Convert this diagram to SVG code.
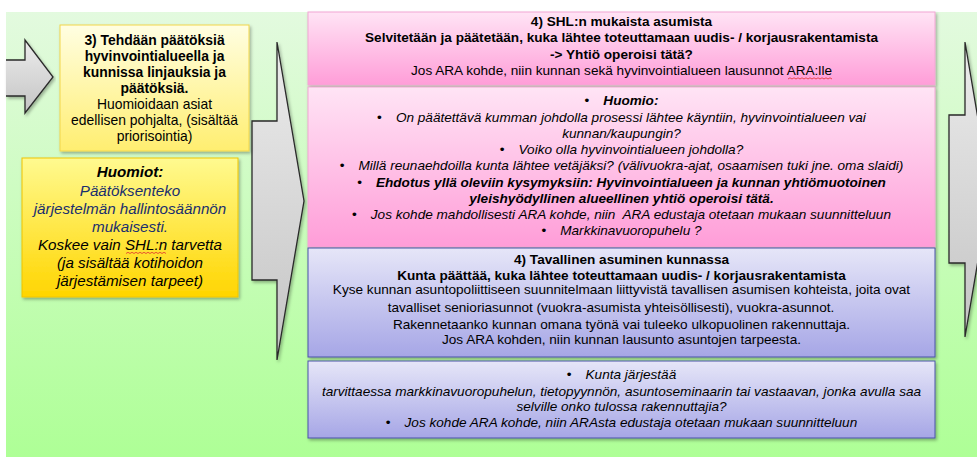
<svg xmlns="http://www.w3.org/2000/svg" width="977" height="457" viewBox="0 0 977 457">
<defs>
<linearGradient id="gBg" x1="0" y1="0" x2="0" y2="1"><stop offset="0" stop-color="#e3fadf"/><stop offset="1" stop-color="#aeff96"/></linearGradient>
<linearGradient id="gPink" x1="0" y1="0" x2="0" y2="1"><stop offset="0" stop-color="#ffe4f5"/><stop offset="1" stop-color="#ff9dd8"/></linearGradient>
<linearGradient id="gBlue" x1="0" y1="0" x2="0" y2="1"><stop offset="0" stop-color="#e6e6f8"/><stop offset="1" stop-color="#a6a6e6"/></linearGradient>
<linearGradient id="gY1" x1="0" y1="0" x2="0" y2="1"><stop offset="0" stop-color="#fffee2"/><stop offset="1" stop-color="#ffee70"/></linearGradient>
<linearGradient id="gY2" x1="0" y1="0" x2="0" y2="1"><stop offset="0" stop-color="#fffa90"/><stop offset="1" stop-color="#ffd500"/></linearGradient>
<linearGradient id="gArrow" x1="0" y1="0" x2="0" y2="1"><stop offset="0" stop-color="#ececec"/><stop offset="1" stop-color="#c4c4c4"/></linearGradient>
<filter id="sh" x="-5%" y="-5%" width="110%" height="115%"><feDropShadow dx="1.5" dy="2" stdDeviation="1.5" flood-color="#000" flood-opacity="0.3"/></filter>
</defs>
<style>
text{font-family:"Liberation Sans",Arial,sans-serif;fill:#000;}
.c{text-anchor:middle;}
.b{font-weight:bold;}
.i{font-style:italic;}
.s13{font-size:13.6px;}
.s135{font-size:13.9px;}
.s15{font-size:15.2px;}
.blue{fill:#1a2f6e;}
.arrow{fill:url(#gArrow);stroke:#2a2a2a;stroke-width:1.3;}
.wavy{fill:none;stroke:#e03030;stroke-width:0.8;}
</style>
<rect x="0" y="0" width="977" height="457" fill="#ffffff"/>
<rect id="background" x="6" y="12" width="971" height="445" fill="url(#gBg)"/>

<g id="connectors">
<g id="arrow-left" filter="url(#sh)">
<polygon points="6,60 25,60 25,40 53,77 25,113 25,96 6,96" fill="url(#gArrow)"/>
<polyline points="6,60 25,60 25,40 53,77 25,113 25,96 6,96" fill="none" stroke="#2a2a2a" stroke-width="1.3"/>
</g>
<polygon id="arrow-middle" class="arrow" filter="url(#sh)" points="252,121 277,121 277,42 304,201 277,360 277,280 252,280"/>
<polygon id="arrow-right" class="arrow" filter="url(#sh)" points="949,115 965,115 965,42 990,190 965,337 965,263 949,263"/>
</g>

<g id="node-step3">
<rect x="60" y="25" width="189" height="126" fill="url(#gY1)" stroke="#f2d64a" stroke-width="1" filter="url(#sh)"/>
<text class="c b s135" x="154.5" y="45">3) Tehdään päätöksiä</text>
<text class="c b s135" x="154.5" y="61">hyvinvointialueella ja</text>
<text class="c b s135" x="154.5" y="77">kunnissa linjauksia ja</text>
<text class="c b s135" x="154.5" y="93">päätöksiä.</text>
<text class="c s135" x="154.5" y="109">Huomioidaan asiat</text>
<text class="c s135" x="154.5" y="125">edellisen pohjalta, (sisältää</text>
<text class="c s135" x="154.5" y="141">priorisointia)</text>
</g>

<g id="node-huomiot">
<rect x="22" y="158" width="216" height="139" fill="url(#gY2)" stroke="#f0c400" stroke-width="1" filter="url(#sh)"/>
<text class="c b i s15" x="130" y="177">Huomiot:</text>
<text class="c i s15 blue" x="130" y="196">Päätöksenteko</text>
<text class="c i s15 blue" x="130" y="214">järjestelmän hallintosäännön</text>
<text class="c i s15 blue" x="130" y="232">mukaisesti.</text>
<text class="c i s15" x="130" y="250">Koskee vain SHL:n tarvetta</text>
<path class="wavy" d="M126,253.5 l2,-1.2 l2,1.2 l2,-1.2 l2,1.2 l2,-1.2 l2,1.2 l2,-1.2 l2,1.2 l2,-1.2 l2,1.2 l2,-1.2 l2,1.2 l2,-1.2 l2,1.2 l2,-1.2 l2,1.2 l2,-1.2 l2,1.2 l2,-1.2 l2,1.2"/>
<text class="c i s15" x="130" y="268">(ja sisältää kotihoidon</text>
<text class="c i s15" x="130" y="286">järjestämisen tarpeet)</text>
</g>

<g id="node-shl">
<rect x="308" y="12" width="627" height="73" fill="url(#gPink)" stroke="#f2a6d4" stroke-width="1" filter="url(#sh)"/>
<text class="c b s13" x="621.5" y="26">4) SHL:n mukaista asumista</text>
<text class="c b s13" x="621.5" y="42">Selvitetään ja päätetään, kuka lähtee toteuttamaan uudis- / korjausrakentamista</text>
<text class="c b s13" x="621.5" y="59">-&gt; Yhtiö operoisi tätä?</text>
<text class="c s13" x="621.5" y="75">Jos ARA kohde, niin kunnan sekä hyvinvointialueen lausunnot ARA:lle</text>
<path class="wavy" d="M788,79 l2,-1.2 l2,1.2 l2,-1.2 l2,1.2 l2,-1.2 l2,1.2 l2,-1.2 l2,1.2 l2,-1.2 l2,1.2 l2,-1.2 l2,1.2 l2,-1.2 l2,1.2 l2,-1.2 l2,1.2 l2,-1.2 l2,1.2 l2,-1.2 l2,1.2 l2,-1.2 l2,1.2"/>
</g>

<g id="node-huomio">
<rect x="308" y="87" width="627" height="160" fill="url(#gPink)" stroke="#f2a6d4" stroke-width="1" filter="url(#sh)"/>
<text class="c b i s13" x="621.5" y="105"><tspan font-weight="normal" font-style="normal">•</tspan><tspan dx="14">Huomio:</tspan></text>
<text class="c i s13" x="621.5" y="122"><tspan font-style="normal">•</tspan><tspan dx="14">On päätettävä kumman johdolla prosessi lähtee käyntiin, hyvinvointialueen vai</tspan></text>
<text class="c i s13" x="621.5" y="138">kunnan/kaupungin?</text>
<text class="c i s13" x="621.5" y="154"><tspan font-style="normal">•</tspan><tspan dx="14">Voiko olla hyvinvointialueen johdolla?</tspan></text>
<text class="c i s13" x="621.5" y="170"><tspan font-style="normal">•</tspan><tspan dx="14">Millä reunaehdoilla kunta lähtee vetäjäksi? (välivuokra-ajat, osaamisen tuki jne. oma slaidi)</tspan></text>
<text class="c b i s13" x="621.5" y="187"><tspan font-weight="normal" font-style="normal">•</tspan><tspan dx="14">Ehdotus yllä oleviin kysymyksiin: Hyvinvointialueen ja kunnan yhtiömuotoinen</tspan></text>
<text class="c b i s13" x="621.5" y="203">yleishyödyllinen alueellinen yhtiö operoisi tätä.</text>
<text class="c i s13" x="621.5" y="219"><tspan font-style="normal">•</tspan><tspan dx="14">Jos kohde mahdollisesti ARA kohde, niin&#160; ARA edustaja otetaan mukaan suunnitteluun</tspan></text>
<text class="c i s13" x="621.5" y="235"><tspan font-style="normal">•</tspan><tspan dx="14">Markkinavuoropuhelu ?</tspan></text>
</g>

<g id="node-tavallinen">
<rect x="308" y="248" width="627" height="109" fill="url(#gBlue)" stroke="#4a52a8" stroke-width="1" filter="url(#sh)"/>
<text class="c b s13" x="621.5" y="264">4) Tavallinen asuminen kunnassa</text>
<text class="c b s13" x="621.5" y="280">Kunta päättää, kuka lähtee toteuttamaan uudis- / korjausrakentamista</text>
<text class="c s13" x="621.5" y="294">Kyse kunnan asuntopoliittiseen suunnitelmaan liittyvistä tavallisen asumisen kohteista, joita ovat</text>
<text class="c s13" x="611" y="312">tavalliset senioriasunnot (vuokra-asumista yhteisöllisesti), vuokra-asunnot.</text>
<text class="c s13" x="621.5" y="329">Rakennetaanko kunnan omana työnä vai tuleeko ulkopuolinen rakennuttaja.</text>
<text class="c s13" x="621.5" y="344">Jos ARA kohden, niin kunnan lausunto asuntojen tarpeesta.</text>
</g>

<g id="node-kunta-jarjestaa">
<rect x="308" y="361" width="627" height="77" fill="url(#gBlue)" stroke="#4a52a8" stroke-width="1" filter="url(#sh)"/>
<text class="c i s13" x="621.5" y="379"><tspan font-style="normal">•</tspan><tspan dx="14">Kunta järjestää</tspan></text>
<text class="c i s13" x="621.5" y="396">tarvittaessa markkinavuoropuhelun, tietopyynnön, asuntoseminaarin tai vastaavan, jonka avulla saa</text>
<text class="c i s13" x="621.5" y="411">selville onko tulossa rakennuttajia?</text>
<text class="c i s13" x="621.5" y="427"><tspan font-style="normal">•</tspan><tspan dx="14">Jos kohde ARA kohde, niin ARAsta edustaja otetaan mukaan suunnitteluun</tspan></text>
</g>
</svg>
